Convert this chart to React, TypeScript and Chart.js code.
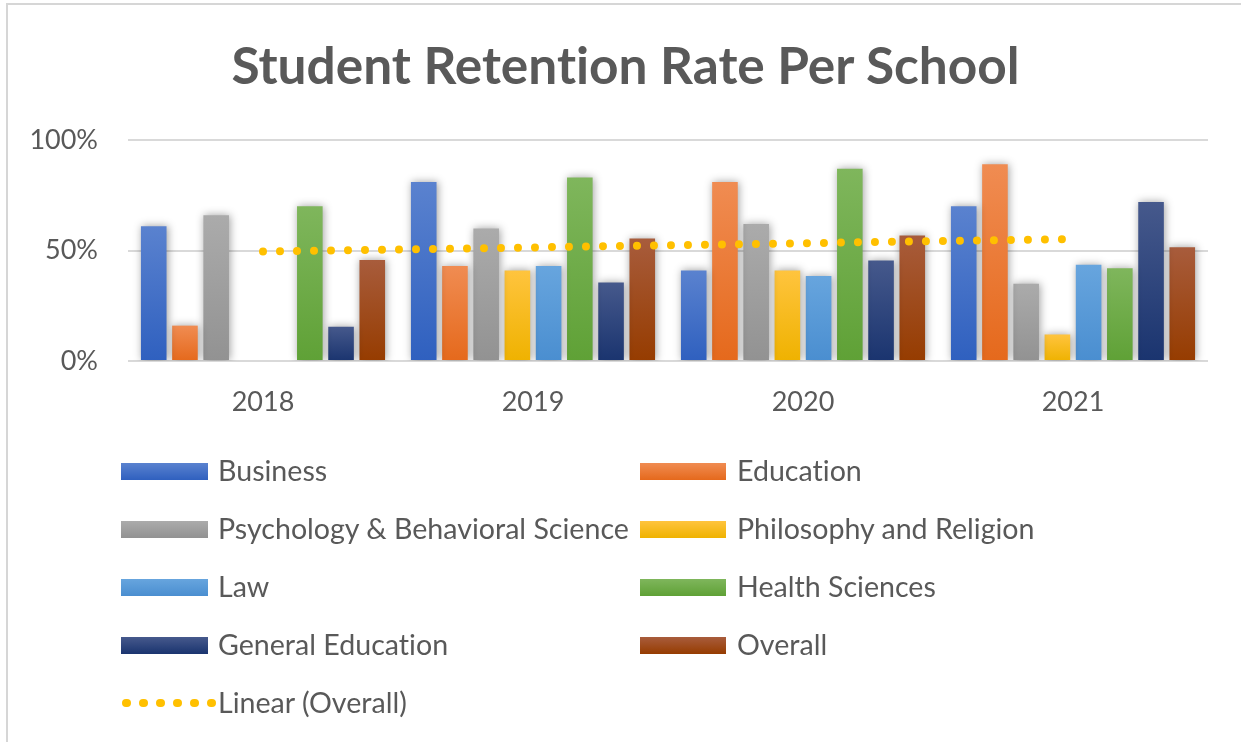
import React, { useEffect, useRef } from "react";
import { Chart, registerables } from "chart.js";

Chart.register(...registerables);

// ---------- data ----------
const years = ["2018", "2019", "2020", "2021"];
const schoolNames = [
  "Business",
  "Education",
  "Psychology & Behavioral Science",
  "Philosophy and Religion",
  "Law",
  "Health Sciences",
  "General Education",
  "Overall",
];
const business = [61, 81, 41, 70];
const education = [16, 43, 81, 89];
const psychology = [66, 60, 62, 35];
const philosophy = [null, 41, 41, 12];
const law = [null, 43, 38.5, 43.5];
const healthSciences = [70, 83, 87, 42];
const generalEducation = [15.5, 35.5, 45.5, 72];
const overall = [45.7, 55.4, 56.8, 51.5];
const linearOverall = [49.5, 51.4, 53.3, 55.2];
const trendName = "Linear (Overall)";
const yTickValues = [0, 50, 100];
const titleText = "Student Retention Rate Per School";

const seriesValues = [
  business,
  education,
  psychology,
  philosophy,
  law,
  healthSciences,
  generalEducation,
  overall,
];

// ---------- styles ----------
const palette: [string, string][] = [
  ["#5a82cf", "#2f60bf"],
  ["#f08c52", "#e5691c"],
  ["#ababab", "#929292"],
  ["#ffc43e", "#efb200"],
  ["#67a5de", "#4a8ed0"],
  ["#7fb65c", "#5fa136"],
  ["#46598c", "#1a346f"],
  ["#a85c3c", "#963c00"],
];
const TEXT = "#595959";
const FONT = "Lato";

const gradientFill = (top: string, bottom: string) => (ctx: any) => {
  const chart = ctx.chart;
  const y = chart.scales && chart.scales.y;
  const v = ctx.raw;
  if (!y || v == null) return bottom;
  const y0 = y.getPixelForValue(v);
  const y1 = y.getPixelForValue(0);
  if (!isFinite(y0) || !isFinite(y1) || Math.abs(y1 - y0) < 1) return bottom;
  const g = chart.ctx.createLinearGradient(0, y0, 0, y1);
  g.addColorStop(0, top);
  g.addColorStop(1, bottom);
  return g;
};

const shadowPlugin = {
  id: "barShadow",
  beforeDatasetDraw(chart: any, args: any) {
    const ds = chart.data.datasets[args.index];
    if (ds.type === "line") return;
    const c = chart.ctx;
    c.save();
    c.shadowColor = "rgba(0,0,0,0.38)";
    c.shadowBlur = 8;
    c.shadowOffsetX = 1;
    c.shadowOffsetY = 0;
  },
  afterDatasetDraw(chart: any, args: any) {
    const ds = chart.data.datasets[args.index];
    if (ds.type === "line") return;
    chart.ctx.restore();
  },
};

export default function App() {
  const canvasRef = useRef<HTMLCanvasElement | null>(null);

  useEffect(() => {
    if (!canvasRef.current) return;
    const barSets = schoolNames.map((name, i) => ({
      type: "bar" as const,
      label: name,
      data: seriesValues[i],
      backgroundColor: gradientFill(palette[i][0], palette[i][1]),
      borderWidth: 0,
      order: 1,
      categoryPercentage: 0.925,
      barPercentage: 0.82,
    }));
    const chart = new Chart(canvasRef.current, {
      type: "bar",
      data: {
        labels: years,
        datasets: [
          ...barSets,
          {
            type: "line" as const,
            label: trendName,
            data: linearOverall,
            borderColor: "#FFC000",
            borderWidth: 8,
            borderDash: [0, 17],
            borderCapStyle: "round",
            pointRadius: 0,
            tension: 0,
            fill: false,
            order: 0,
          } as any,
        ],
      },
      plugins: [shadowPlugin],
      options: {
        responsive: false,
        animation: false,
        events: [],
        layout: { padding: { left: 0, top: 140, right: 33, bottom: 321 } },
        plugins: {
          legend: { display: false },
          title: { display: false },
          tooltip: { enabled: false },
        },
        scales: {
          x: {
            grid: { display: false, drawTicks: false },
            border: { display: false },
            ticks: {
              color: TEXT,
              font: { family: FONT, size: 27 },
              padding: 25,
            },
            afterFit: (s: any) => {
              s.height = 60;
            },
          },
          y: {
            min: 0,
            max: 100,
            afterBuildTicks: (s: any) => {
              s.ticks = yTickValues.map((v) => ({ value: v }));
            },
            ticks: {
              color: TEXT,
              font: { family: FONT, size: 27 },
              padding: 30,
              callback: (v: any) => v + "%",
            },
            grid: { color: "#d9d9d9", lineWidth: 2, drawTicks: false },
            border: { display: false },
            afterFit: (s: any) => {
              s.width = 128;
            },
          },
        },
      } as any,
    });
    return () => chart.destroy();
  }, []);

  const legendRows = [
    [0, 1],
    [2, 3],
    [4, 5],
    [6, 7],
  ];
  const rowCenters = [471, 529, 587, 645, 703];
  const textStyle: React.CSSProperties = {
    fontFamily: FONT,
    fontSize: 28.6,
    color: TEXT,
    lineHeight: "34px",
    whiteSpace: "nowrap",
    fontVariantLigatures: "none",
  };

  return (
    <div
      style={{
        position: "fixed",
        left: 0,
        top: 0,
        width: 1241,
        height: 742,
        background: "#fff",
        overflow: "hidden",
        fontVariantLigatures: "none",
      }}
    >
      <div
        style={{
          position: "absolute",
          left: 6,
          top: 3,
          right: 0,
          bottom: 0,
          borderTop: "2px solid #d6d6d6",
          borderLeft: "2px solid #d6d6d6",
        }}
      />
      <canvas
        ref={canvasRef}
        width={1241}
        height={742}
        style={{ position: "absolute", left: 0, top: 0, width: 1241, height: 742 }}
      />
      <div
        style={{
          position: "absolute",
          left: 10,
          width: 1231,
          top: 34,
          textAlign: "center",
          fontFamily: FONT,
          fontWeight: 700,
          fontSize: 51.4,
          lineHeight: "60px",
          color: TEXT,
          whiteSpace: "nowrap",
          fontVariantLigatures: "none",
        }}
      >
        {titleText}
      </div>
      {legendRows.map((pair, r) =>
        pair.map((idx, c) => {
          const boxLeft = c === 0 ? 121 : 640;
          const boxW = c === 0 ? 87 : 86;
          const textLeft = c === 0 ? 218 : 737;
          const cy = rowCenters[r];
          return (
            <React.Fragment key={idx}>
              <div
                style={{
                  position: "absolute",
                  left: boxLeft,
                  top: cy - 8.5,
                  width: boxW,
                  height: 17,
                  background: `linear-gradient(${palette[idx][0]}, ${palette[idx][1]})`,
                }}
              />
              <div
                style={{ ...textStyle, position: "absolute", left: textLeft, top: cy - 18 }}
              >
                {schoolNames[idx]}
              </div>
            </React.Fragment>
          );
        })
      )}
      {[0, 1, 2, 3, 4, 5].map((k) => (
        <div
          key={"dot" + k}
          style={{
            position: "absolute",
            left: 122 + k * 17,
            top: rowCenters[4] - 4.25,
            width: 8.5,
            height: 8.5,
            borderRadius: 4.25,
            background: "#FFC000",
          }}
        />
      ))}
      <div style={{ ...textStyle, position: "absolute", left: 218, top: rowCenters[4] - 18 }}>
        {trendName}
      </div>
    </div>
  );
}
